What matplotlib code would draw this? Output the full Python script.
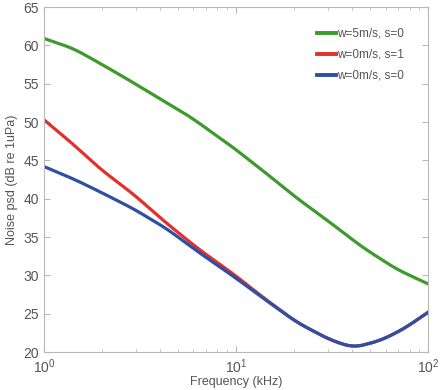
import numpy as np
import matplotlib
matplotlib.use("Agg")
import matplotlib.pyplot as plt
from matplotlib.ticker import LogLocator, NullFormatter

plt.rcParams['font.family'] = ['Liberation Sans', 'DejaVu Sans']

# Data (frequency in kHz, psd in dB re 1uPa)
freq_green = [1, 1.42, 1.88, 2.59, 3.86, 5.76, 8.26, 9.3, 13.9, 20.7, 30.9, 46, 68.7, 100]
psd_green = [60.9, 59.6, 57.9, 55.9, 53.3, 50.7, 47.9, 47.0, 43.6, 40.1, 36.9, 33.6, 30.8, 28.9]

freq_red = [1, 1.42, 1.96, 2.92, 4.35, 6.49, 9.68, 13.9, 20.7, 30.9, 40.8, 56.2, 74.3, 100]
psd_red = [50.3, 47.1, 43.9, 40.6, 36.8, 33.3, 30.2, 27.1, 23.9, 21.6, 20.6, 21.5, 23.0, 25.2]

freq_blue = [1, 1.42, 1.96, 2.92, 4.35, 6.49, 9.68, 13.9, 20.7, 30.9, 40.8, 56.2, 74.3, 100]
psd_blue = [44.2, 42.6, 40.9, 38.7, 36.1, 32.9, 29.9, 27.0, 23.9, 21.6, 20.6, 21.5, 23.0, 25.2]

labels = ['w=5m/s, s=0', 'w=0m/s, s=1', 'w=0m/s, s=0']
colors = ['#3d9a2c', '#e3302b', '#2d4fa6']

fig = plt.figure(figsize=(4.4, 3.9), dpi=100)
ax = fig.add_axes([0.1, 0.097, 0.873, 0.885])

def smooth_interp(fx, fy):
    lx = np.log10(fx)
    xs = np.linspace(lx[0], lx[-1], 600)
    ys = np.interp(xs, lx, fy)
    k = 16
    pad = np.pad(ys, k, mode='reflect', reflect_type='odd')
    ys = np.convolve(pad, np.ones(2 * k + 1) / (2 * k + 1), mode='same')[k:-k]
    return 10 ** xs, ys

for fx, fy, lab, c in zip([freq_green, freq_red, freq_blue],
                          [psd_green, psd_red, psd_blue], labels, colors):
    x, y = smooth_interp(np.array(fx, float), np.array(fy, float))
    ax.plot(x, y, color=c, lw=2.3, label=lab)

ax.set_xscale('log')
ax.set_xlim(1, 100)
ax.set_ylim(20, 65)
ax.set_yticks(np.arange(20, 66, 5))
ax.xaxis.set_minor_locator(LogLocator(base=10, subs=np.arange(2, 10)))
ax.xaxis.set_minor_formatter(NullFormatter())

for s in ax.spines.values():
    s.set_color('#b8b8b8')
    s.set_linewidth(0.8)
ax.tick_params(which='both', direction='in', top=True, right=True, colors='#b8b8b8',
               labelcolor='#555555', labelsize=10)
ax.tick_params(which='major', length=4)
ax.tick_params(which='minor', length=2.5)
ax.tick_params(axis='x', which='major', pad=4)

ax.set_xlabel('Frequency (kHz)', fontsize=9, color='#555555', labelpad=0)
ax.set_ylabel('Noise psd (dB re 1uPa)', fontsize=9, color='#555555', labelpad=4)

leg = ax.legend(loc='upper right', frameon=False, fontsize=8.5, handlelength=1.6,
                handletextpad=0.1, labelspacing=0.75, bbox_to_anchor=(0.965, 0.97))
for t in leg.get_texts():
    t.set_color('#555555')
for h in leg.get_lines():
    h.set_linewidth(2.8)

fig.savefig('out.png', dpi=100)
